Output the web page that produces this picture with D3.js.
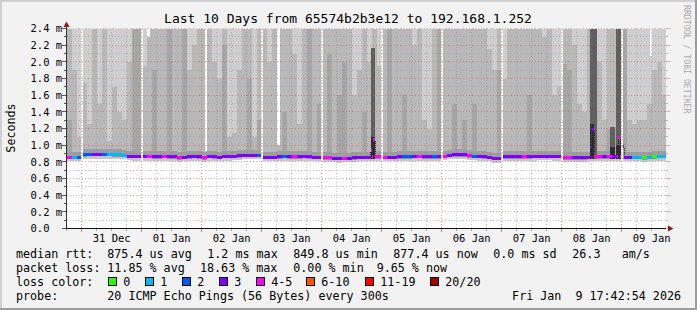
<!DOCTYPE html>
<html lang="en">
<head>
<meta charset="UTF-8" />
<title>Last 10 Days from 65574b2b3e12 to 192.168.1.252</title>
<style>
  body { margin: 0; background: #fff; }
  svg { display: block; font-family: "DejaVu Sans Mono", monospace; }
  text { white-space: pre; }
</style>
</head>
<body>
<svg width="697" height="310"></svg>
<script src="https://cdn.jsdelivr.net/npm/d3@7/dist/d3.min.js"></script>
<script>
const parse = d3.timeParse("%Y-%m-%d %H:%M");
const tStart = new Date(2025, 11, 30, 17, 42, 54);
const tEnd = new Date(2026, 0, 9, 17, 42, 54);

// 2 hour bins, first one starts here
const firstBin = "2025-12-30 16:00";

// median rtt (ms) per bin
const median = [
  0.86, 0.86, 0.86, 0.86,
  0.89, 0.895, 0.895, 0.895, 0.895, 0.895, 0.89, 0.89, 0.885, 0.875, 0.87, 0.87,
  0.87, 0.87, 0.865, 0.865, 0.87, 0.865, 0.865, 0.855, 0.86, 0.865, 0.87, 0.865,
  0.855, 0.87, 0.865, 0.86, 0.87, 0.87, 0.875, 0.88, 0.885, 0.885, 0.885, 0.885,
  0.86, 0.86, 0.86, 0.865, 0.87, 0.865, 0.865, 0.865, 0.87, 0.865, 0.86, 0.86,
  0.855, 0.855, 0.85, 0.845, 0.85, 0.85, 0.855, 0.86, 0.86, 0.86, 0.865, 0.865,
  0.86, 0.86, 0.86, 0.865, 0.865, 0.865, 0.87, 0.87, 0.865, 0.865, 0.865, 0.865,
  0.875, 0.885, 0.89, 0.89, 0.89, 0.88, 0.875, 0.87, 0.865, 0.86, 0.845, 0.845,
  0.865, 0.865, 0.865, 0.865, 0.865, 0.865, 0.87, 0.875, 0.875, 0.875, 0.87, 0.87,
  0.855, 0.855, 0.855, 0.855, 0.855, 0.86, 0.865, 0.865, 0.865, 0.865, 0.865, 0.87,
  0.86, 0.86, 0.86, 0.86, 0.855, 0.86, 0.865, 0.87, 0.87
];

// lost pings (of 20) per bin
const loss = [
  5, 5, 1, 2,
  2, 2, 3, 3, 2, 1, 1, 1, 1, 3, 3, 3,
  3, 5, 3, 3, 5, 3, 3, 5, 3, 3, 3, 3,
  5, 3, 3, 3, 3, 3, 3, 3, 3, 3, 3, 2,
  3, 3, 3, 3, 2, 3, 5, 3, 3, 3, 3, 3,
  5, 5, 3, 3, 5, 3, 3, 3, 3, 3, 5, 5,
  5, 3, 3, 3, 2, 2, 3, 5, 3, 3, 2, 3,
  5, 3, 3, 3, 3, 5, 2, 3, 3, 3, 3, 3,
  3, 3, 3, 3, 5, 3, 3, 3, 3, 3, 3, 3,
  5, 5, 3, 3, 3, 3, 5, 5, 3, 5, 3, 5,
  3, 3, 1, 1, 0, 1, 0, 1, 1
];

// smoke: level (ms) above which only few pings remain (3 = none on chart)
const smokeThin = [
  3, 3, 1.9, 1.1,
  1.75, 1.25, 3, 1.5, 3, 1.05, 1.7, 1.4, 1.3, 2.0, 3, 3,
  1.95, 3, 3, 3, 3, 3, 3, 3, 3, 1.9, 2.2, 3,
  3, 3, 2.0, 1.8, 3, 1.1, 1.15, 1.9, 3, 3, 1.1, 3,
  3, 2.0, 3, 3, 3, 3, 2.1, 1.25, 3, 3, 3, 3,
  3, 3, 3, 3, 3, 3, 1.6, 1.9, 3, 2.0, 3, 1.95,
  3, 3, 3, 3, 3, 3, 2.2, 3, 1.3, 1.2, 3, 3,
  3, 3, 3, 3, 3, 3, 3, 3, 2.5, 2.15, 1.9, 3,
  1.8, 3, 3, 3, 3, 3, 3, 3, 2.3, 3, 1.6, 1.7,
  3, 3, 2.2, 1.5, 1.4, 3, 3, 2.0, 1.3, 3, 3, 3,
  3, 1.3, 1.25, 1.3, 1.3, 1.5, 1.9, 2.0, 1.6
];

// smoke: level (ms) up to which pings are dense (0 = none)
const smokeDense = [
  1.3, 1.3, 0, 0,
  0, 0, 0, 0, 0, 0, 0, 0, 0, 0, 3, 3,
  0, 0, 1.9, 0, 0, 3, 0, 0, 3, 0, 0, 0,
  0, 0, 0, 0, 2.2, 0, 0, 0, 0, 1.8, 0, 1.3,
  0, 0, 0, 0, 1.4, 0, 0, 0, 0, 3, 0, 1.5,
  0, 2.1, 0, 1.6, 2.0, 0, 0, 0, 1.4, 0, 0, 0,
  0, 3, 0, 0, 1.6, 0, 0, 0, 0, 0, 0, 3,
  0, 0, 1.5, 0, 1.3, 0, 1.5, 0, 0, 0, 0, 1.9,
  0, 0, 0, 0, 0, 1.6, 0, 0, 0, 0, 0, 0,
  1.97, 1.9, 0, 0, 0, 0, 0, 0, 0, 1.2, 1.2, 0,
  3, 0, 0, 0, 0, 0, 0, 0, 0
];

// short bursts of high latency
const burstStart = ["2026-01-04 19:48", "2026-01-08 11:12", "2026-01-08 12:48", "2026-01-08 19:12", "2026-01-08 21:36"];
const burstMinutes = [96, 96, 72, 120, 120];
const burstBlack = [1.1, 1.25, 0, 0.98, 1.0];
const burstGrey = [2.17, 3, 3, 1.22, 3];

// narrow intervals where the largest ping stayed low
const lowMaxStart = ["2026-01-01 02:00", "2026-01-02 01:12", "2026-01-03 06:12", "2026-01-09 11:12"];
const lowMaxMinutes = [72, 48, 60, 48];
const lowMaxTop = [2.3, 0.93, 1.0, 2.07];

// short median spikes
const spikeStart = ["2026-01-04 19:36", "2026-01-04 20:24", "2026-01-08 11:12", "2026-01-08 12:00", "2026-01-08 22:24", "2026-01-09 00:12"];
const spikeMinutes = [24, 48, 24, 48, 48, 48];
const spikeMedian = [0.94, 1.07, 0.975, 1.19, 1.10, 0.99];
const spikeLoss = [5, 5, 3, 3, 5, 3];

// missing data
const gapStart = ["2025-12-30 23:48", "2025-12-31 23:48", "2026-01-02 23:48", "2026-01-03 23:48",
  "2026-01-04 23:48", "2026-01-05 23:48", "2026-01-06 23:48", "2026-01-07 23:48", "2026-01-08 23:48"];
const gapMinutes = 36;

// legend
const lossUpper = [0, 1, 2, 3, 5, 10, 19, 20];
const lossLabels = ["0", "1", "2", "3", "4-5", "6-10", "11-19", "20/20"];
const lossColors = ["#26ff00", "#00b8ff", "#0059ff", "#7e00ff", "#ff00ff", "#ff5500", "#ff0000", "#a10000"];
const yTicks = [0, 0.2, 0.4, 0.6, 0.8, 1.0, 1.2, 1.4, 1.6, 1.8, 2.0, 2.2, 2.4];

const svg = d3.select("svg");
const W = 697, H = 310;
const x = d3.scaleTime().domain([tStart, tEnd]).range([66, 666]);
const y = d3.scaleLinear().domain([0, 2.4]).range([228.5, 28.5]);
const yc = (v) => y(Math.max(0, Math.min(v, 2.4)));
const binTime = (i) => d3.timeHour.offset(parse(firstBin), 2 * i);
const colourOf = (l) => lossColors[lossUpper.findIndex((b) => l <= b)];

// frame
svg.append("rect").attr("width", W).attr("height", H).attr("fill", "#f2f2f2");
svg.append("path").attr("d", `M0,1H${W}M1,0V${H}`).attr("stroke", "#d0d0d0").attr("stroke-width", 2);
svg.append("path").attr("d", `M0,${H - 1}H${W}M${W - 1},0V${H}`).attr("stroke", "#9c9c9c").attr("stroke-width", 2);

svg.append("rect").attr("x", 66).attr("y", 28.5).attr("width", 600).attr("height", 200).attr("fill", "#fff");

svg.append("clipPath").attr("id", "plot")
  .append("rect").attr("x", 66).attr("y", 28.5).attr("width", 600).attr("height", 200);

const smoke = svg.append("g").attr("clip-path", "url(#plot)").attr("shape-rendering", "crispEdges");

function band(x0, x1, lo, hi, fill) {
  if (hi <= lo) return;
  smoke.append("rect")
    .attr("x", x0).attr("width", x1 - x0)
    .attr("y", yc(hi)).attr("height", yc(lo) - yc(hi))
    .attr("fill", fill);
}

median.forEach((m, i) => {
  const x0 = x(binTime(i)), x1 = x(binTime(i + 1));
  band(x0, x1, m - 0.055, m - 0.028, "#c6c6c6");
  band(x0, x1, m - 0.028, m, "#8f8f8f");
  band(x0, x1, m, 3, "#b8b8b8");
  if (smokeDense[i] > 0) band(x0, x1, m, smokeDense[i], "#a6a6a6");
  band(x0, x1, smokeThin[i], 3, "#cecece");
  band(x0, x1, m, m + 0.06, "#9e9e9e");
});

burstStart.forEach((s, j) => {
  const a = parse(s), b = d3.timeMinute.offset(a, burstMinutes[j]);
  const bi = Math.floor((a - parse(firstBin)) / 7200000);
  const lo = median[bi] - 0.03;
  band(x(a), x(b), lo, burstGrey[j], "#5f5f5f");
  if (burstBlack[j] > 0) band(x(a), x(b), lo, burstBlack[j], "#2f2f2f");
});

lowMaxStart.forEach((s, j) => {
  const a = parse(s), b = d3.timeMinute.offset(a, lowMaxMinutes[j]);
  band(x(a), x(b), lowMaxTop[j], 3, "#fff");
});

gapStart.forEach((s) => {
  const a = parse(s), b = d3.timeMinute.offset(a, gapMinutes);
  band(x(a), x(b), 0, 3, "#fff");
});

// grid
const grid = svg.append("g").attr("shape-rendering", "crispEdges").attr("stroke-dasharray", "1,2");
d3.range(1, 25).forEach((k) => {
  const yy = Math.round(y(k / 10) - 0.5) + 0.5;
  grid.append("line").attr("x1", 67).attr("x2", 666).attr("y1", yy).attr("y2", yy)
    .attr("stroke", k % 2 ? "rgba(120,120,120,0.35)" : "rgba(220,60,60,0.45)");
});
d3.timeHour.every(6).range(tStart, tEnd).forEach((t) => {
  const xx = Math.floor(x(t)) + 0.5;
  grid.append("line").attr("x1", xx).attr("x2", xx).attr("y1", 28.5).attr("y2", 228)
    .attr("stroke", t.getHours() ? "rgba(120,120,120,0.35)" : "rgba(220,60,60,0.45)");
});

// median line, one pixel column at a time
const colMs = (tEnd - tStart) / 600;
const t0 = +parse(firstBin);
const cols = d3.range(600).map((c) => {
  const a = new Date(+tStart + c * colMs), b = new Date(+tStart + (c + 1) * colMs);
  const tm = +a + colMs / 2;
  if (gapStart.some((g) => tm >= +parse(g) && tm < +parse(g) + gapMinutes * 60000)) return null;
  const bi = Math.floor((tm - t0) / 7200000);
  let v = median[bi], l = loss[bi];
  spikeStart.forEach((s, j) => {
    const sa = +parse(s);
    if (tm >= sa && tm < sa + spikeMinutes[j] * 60000) { v = spikeMedian[j]; l = spikeLoss[j]; }
  });
  return { x0: x(a), x1: x(b), yy: Math.round(y(v)), col: colourOf(l) };
});

const med = svg.append("g").attr("clip-path", "url(#plot)").attr("shape-rendering", "crispEdges");
// thin dark risers where the median jumps
cols.forEach((c, i) => {
  const p = cols[i - 1];
  if (!c || !p || Math.abs(c.yy - p.yy) <= 3) return;
  med.append("line")
    .attr("x1", Math.floor(c.x0) + 0.5).attr("x2", Math.floor(c.x0) + 0.5)
    .attr("y1", Math.min(c.yy, p.yy) + 1.5).attr("y2", Math.max(c.yy, p.yy) - 1.5)
    .attr("stroke", "#222").attr("stroke-dasharray", "1,1");
});
med.selectAll("rect").data(cols.filter((c) => c)).join("rect")
  .attr("x", (c) => c.x0).attr("width", (c) => c.x1 - c.x0)
  .attr("y", (c) => c.yy - 1.5).attr("height", 3)
  .attr("fill", (c) => c.col);

// axes
const ax = svg.append("g").attr("shape-rendering", "crispEdges");
ax.append("line").attr("x1", 66.5).attr("x2", 66.5).attr("y1", 231).attr("y2", 25).attr("stroke", "#2c3a36");
ax.append("line").attr("x1", 62).attr("x2", 670).attr("y1", 228.5).attr("y2", 228.5).attr("stroke", "#111");
d3.range(0, 25).forEach((k) => {
  const yy = Math.round(y(k / 10) - 0.5) + 0.5;
  ax.append("line").attr("x1", k % 2 ? 64 : 62).attr("x2", 66).attr("y1", yy).attr("y2", yy).attr("stroke", "#555");
  ax.append("line").attr("x1", 666).attr("x2", k % 2 ? 668 : 670).attr("y1", yy).attr("y2", yy).attr("stroke", "#bbb");
});
d3.timeHour.every(6).range(tStart, tEnd).forEach((t) => {
  const xx = Math.floor(x(t)) + 0.5;
  ax.append("line").attr("x1", xx).attr("x2", xx).attr("y1", 229).attr("y2", t.getHours() ? 231 : 232)
    .attr("stroke", t.getHours() ? "#aaa" : "#d08080");
});
svg.append("path").attr("d", "M63.5,27L66.5,21.5L69.5,27Z").attr("fill", "#8b1a1a");
svg.append("path").attr("d", "M668,225.5L673.5,228.5L668,231.5Z").attr("fill", "#8b1a1a");

svg.append("g").selectAll("text").data(yTicks).join("text")
  .attr("x", 30.5).attr("y", (d) => y(d) + 3.8)
  .attr("font-size", 10.5).attr("fill", "#000")
  .text((d) => d === 0 ? "0.0" : d.toFixed(1) + " m");

const fmt = d3.timeFormat("%d %b");
svg.append("g").selectAll("text")
  .data(d3.timeDay.range(tStart, tEnd).map((d) => d3.timeHour.offset(d, 12)).filter((d) => d > tStart && d < tEnd))
  .join("text")
  .attr("x", (d) => x(d)).attr("y", 242)
  .attr("text-anchor", "middle").attr("font-size", 10.5).attr("fill", "#000")
  .text(fmt);

// titles
svg.append("text").attr("x", 348).attr("y", 23).attr("text-anchor", "middle")
  .attr("font-size", 13).attr("fill", "#000")
  .text("Last 10 Days from 65574b2b3e12 to 192.168.1.252");
svg.append("text").attr("transform", "translate(15,128) rotate(-90)").attr("text-anchor", "middle")
  .attr("font-size", 11.7).attr("fill", "#000").text("Seconds");
svg.append("text").attr("transform", "translate(684,5) rotate(90)")
  .attr("font-size", 8.2).attr("fill", "#aaa").text("RRDTOOL / TOBI OETIKER");

// legend
const legendRows = [
  [[16, "median rtt:"], [107.3, "875.4 us avg"], [207.3, "1.2 ms max"], [293.3, "849.8 us min"],
   [393.3, "877.4 us now"], [493.3, "0.0 ms sd"], [572.3, "26.3"], [621.7, "am/s"]],
  [[16, "packet loss:"], [107.3, "11.85 % avg"], [200, "18.63 % max"], [293.3, "0.00 % min"], [376.7, "9.65 % now"]],
  [[16, "loss color:"]],
  [[16, "probe:"], [107.3, "20 ICMP Echo Pings (56 Bytes) every 300s"]]
];
const rowY = [258, 272, 286, 300];
legendRows.forEach((row, r) => {
  row.forEach(([lx, s]) => {
    svg.append("text").attr("x", lx).attr("y", rowY[r]).attr("font-size", 11.7).attr("fill", "#000").text(s);
  });
});
svg.append("text").attr("x", 681).attr("y", 300).attr("text-anchor", "end")
  .attr("font-size", 11.7).attr("fill", "#000").text("Fri Jan  9 17:42:54 2026");

const boxX = [108.5, 145.5, 182.5, 219.5, 256.5, 306.5, 365.5, 430.5];
lossLabels.forEach((lab, i) => {
  svg.append("rect").attr("x", boxX[i]).attr("y", 277.5).attr("width", 8).attr("height", 8)
    .attr("fill", lossColors[i]).attr("stroke", "#000").attr("shape-rendering", "crispEdges");
  svg.append("text").attr("x", boxX[i] + 14.8).attr("y", 286).attr("font-size", 11.7).attr("fill", "#000").text(lab);
});
</script>
</body>
</html>
